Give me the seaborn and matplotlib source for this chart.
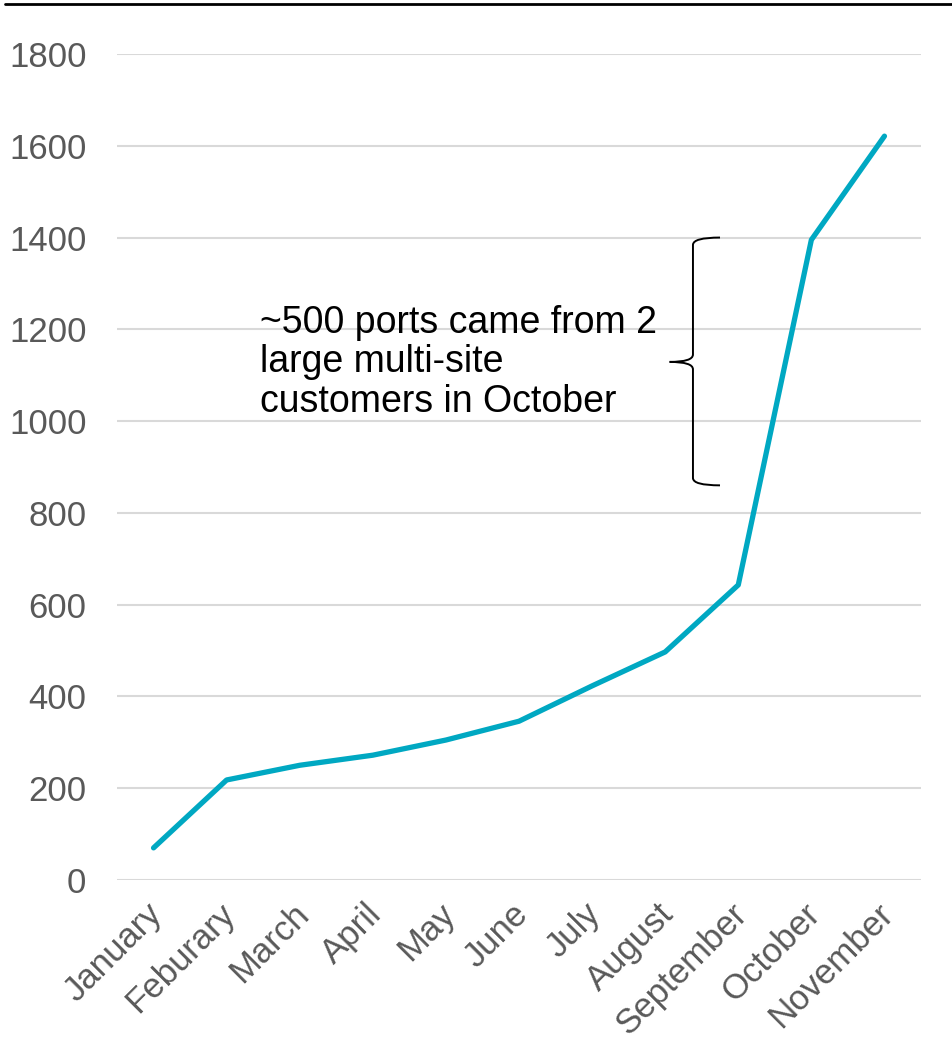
import matplotlib
matplotlib.use("Agg")
import matplotlib.pyplot as plt
import matplotlib.transforms as mtransforms
import seaborn as sns
import pandas as pd
import numpy as np
from matplotlib.lines import Line2D
from matplotlib.path import Path
from matplotlib.patches import PathPatch

months = ["January", "Feburary", "March", "April", "May", "June", "July",
          "August", "September", "October", "November"]
ports = [70, 218, 250, 272, 305, 346, 423, 497, 643, 1395, 1621]
yticks = [0, 200, 400, 600, 800, 1000, 1200, 1400, 1600, 1800]
note = "~500 ports came from 2\nlarge multi-site\ncustomers in October"

sns.set_theme(style="white")
plt.rcParams['font.family'] = ['Liberation Sans', 'DejaVu Sans']

df = pd.DataFrame({"month": months, "ports": ports})
df["idx"] = np.arange(len(months))

fig = plt.figure(figsize=(9.52, 10.45), dpi=100)
ax = fig.add_axes([117/952, 1 - 880/1045, (921-117)/952, (880-54)/1045])

sns.lineplot(data=df, x="idx", y="ports", ax=ax, color="#00A8C2", linewidth=3.8)

ax.set_xlim(-0.5, len(months) - 0.5)
ax.set_ylim(0, 1800)
ax.set_yticks(yticks)
ax.set_yticklabels([str(v) for v in yticks])
ax.set_xticks(df["idx"])
ax.set_xticklabels(months, rotation=45, ha="right", rotation_mode="anchor")
ax.tick_params(axis="both", length=0, labelsize=25, colors="#595959")
ax.tick_params(axis="y", pad=22)
ax.tick_params(axis="x", pad=14)
offset = mtransforms.ScaledTranslation(-8/100, 2/100, fig.dpi_scale_trans)
for lbl in ax.get_xticklabels():
    lbl.set_transform(lbl.get_transform() + offset)
ax.set_xlabel("")
ax.set_ylabel("")
ax.yaxis.grid(True, color="#D9D9D9", linewidth=1.5)
ax.set_axisbelow(True)
for s in ax.spines.values():
    s.set_visible(False)

# annotation text
ax.text(1.45, 1128, note, fontsize=27, color="black", ha="left", va="center",
        linespacing=1.12)

# curly brace (annotation)
x_right, x_mid, x_tip = 7.75, 7.38, 7.06
y_top, y_bot, y_c = 1400, 860, 1129
dy = 16
upper = Path([(x_right, y_top), (x_mid, y_top), (x_mid, y_top - dy),
              (x_mid, y_c + dy), (x_mid, y_c), (x_tip, y_c)],
             [Path.MOVETO, Path.CURVE3, Path.CURVE3,
              Path.LINETO, Path.CURVE3, Path.CURVE3])
lower = Path([(x_tip, y_c), (x_mid, y_c), (x_mid, y_c - dy),
              (x_mid, y_bot + dy), (x_mid, y_bot), (x_right, y_bot)],
             [Path.MOVETO, Path.CURVE3, Path.CURVE3,
              Path.LINETO, Path.CURVE3, Path.CURVE3])
for p in (upper, lower):
    ax.add_patch(PathPatch(p, fill=False, edgecolor="black", linewidth=1.4))

# top rule
fig.add_artist(Line2D([5/952, 1.0], [1 - 4/1045, 1 - 4/1045],
                      transform=fig.transFigure, color="black", linewidth=2))

fig.savefig("out.png", dpi=100)
